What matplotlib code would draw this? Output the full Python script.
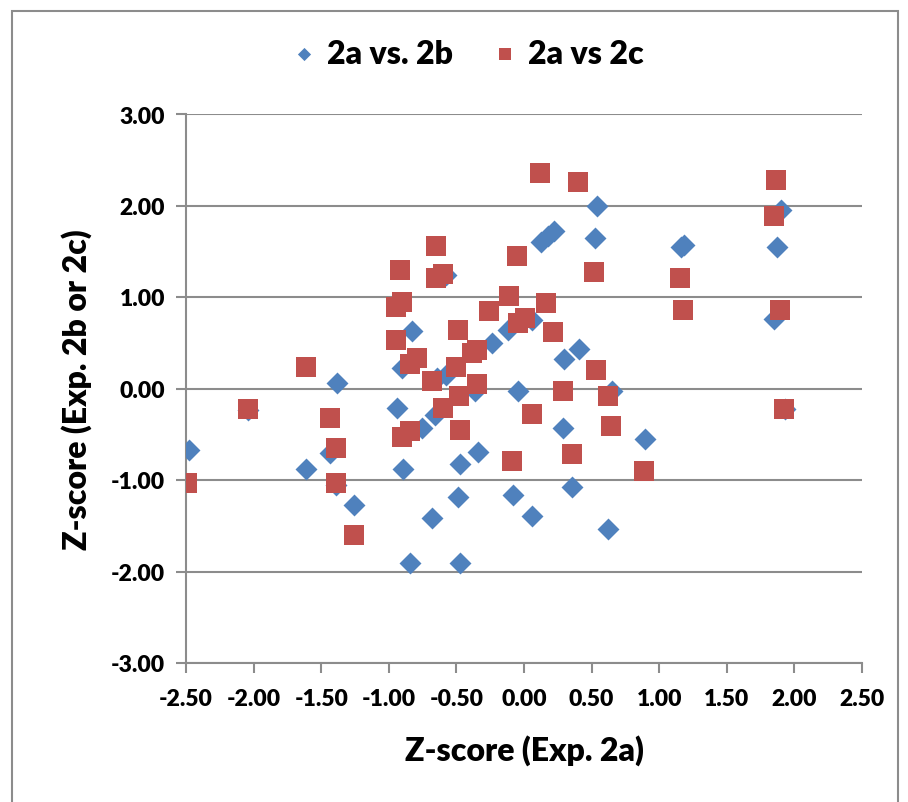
import matplotlib.pyplot as plt
from matplotlib.patches import Rectangle

# 2a vs. 2b (blue diamonds)
b_x = [-2.48, -2.04, -1.61, -1.435, -1.39, -1.385, -1.255, -0.94, -0.905, -0.897,
       -0.84, -0.826, -0.757, -0.678, -0.658, -0.646, -0.58, -0.577, -0.486, -0.473,
       -0.473, -0.36, -0.338, -0.239, -0.116, -0.084, -0.047, 0.057, 0.061, 0.126,
       0.18, 0.224, 0.286, 0.298, 0.357, 0.407, 0.525, 0.538, 0.624, 0.653,
       0.895, 1.161, 1.186, 1.849, 1.869, 1.898, 1.93]
b_y = [-0.67, -0.23, -0.88, -0.71, -1.05, 0.06, -1.27, -0.21, 0.22, -0.88,
       -1.91, 0.63, -0.43, -1.41, -0.29, 0.11, 1.24, 0.15, -1.19, -0.82,
       -1.91, -0.03, -0.69, 0.50, 0.64, -1.16, -0.03, 0.75, -1.39, 1.60,
       1.67, 1.72, -0.43, 0.32, -1.08, 0.43, 1.64, 2.00, -1.54, -0.03,
       -0.55, 1.55, 1.57, 0.76, 1.55, 1.95, -0.22]

# 2a vs 2c (red squares)
r_x = [-2.49, -2.04, -1.615, -1.435, -1.39, -1.39, -1.26, -0.947, -0.947, -0.917,
       -0.905, -0.905, -0.84, -0.84, -0.794, -0.683, -0.653, -0.653, -0.597, -0.597,
       -0.503, -0.49, -0.478, -0.473, -0.387, -0.35, -0.345, -0.257, -0.108, -0.091,
       -0.05, -0.047, 0.007, 0.057, 0.118, 0.16, 0.217, 0.286, 0.353, 0.397,
       0.518, 0.53, 0.62, 0.64, 0.888, 1.154, 1.178, 1.85, 1.864, 1.893, 1.923]
r_y = [-1.03, -0.22, 0.23, -0.32, -0.65, -1.03, -1.60, 0.89, 0.53, 1.30,
       0.95, -0.525, 0.27, -0.46, 0.33, 0.08, 1.56, 1.21, 1.25, -0.21,
       0.24, 0.64, -0.08, -0.45, 0.39, 0.42, 0.05, 0.85, 1.01, -0.79,
       1.45, 0.72, 0.77, -0.28, 2.35, 0.93, 0.62, -0.03, -0.72, 2.26,
       1.27, 0.20, -0.08, -0.41, -0.90, 1.21, 0.86, 1.89, 2.28, 0.86, -0.22]

x_ticks = [-2.5, -2.0, -1.5, -1.0, -0.5, 0.0, 0.5, 1.0, 1.5, 2.0, 2.5]
y_ticks = [-3.0, -2.0, -1.0, 0.0, 1.0, 2.0, 3.0]

BLUE = '#4F81BD'
RED = '#C0504D'
FONT = ['Lato', 'DejaVu Sans']

fig = plt.figure(figsize=(9.08, 8.03), dpi=100)
fig.patches.append(Rectangle((12 / 908, -0.01), 886 / 908, 1 - 12 / 803 + 0.01,
                             transform=fig.transFigure, fill=False,
                             edgecolor='#8c8c8c', linewidth=1.5))
ax = fig.add_axes([186 / 908, 1 - 664 / 803, 676 / 908, 549 / 803])

ax.scatter(b_x, b_y, marker='D', s=125, color=BLUE, linewidths=0, label='2a vs. 2b', zorder=3)
ax.scatter(r_x, r_y, marker='s', s=205, color=RED, linewidths=0, label='2a vs 2c', zorder=4)

ax.set_xlim(-2.5, 2.5)
ax.set_ylim(-3, 3)
ax.set_xticks(x_ticks)
ax.set_yticks(y_ticks)
ax.set_xticklabels(['%.2f' % v for v in x_ticks])
ax.set_yticklabels(['%.2f' % v for v in y_ticks])
ax.yaxis.grid(True, color='#8c8c8c', linewidth=1.5)
ax.set_axisbelow(True)
for s in ['top', 'right']:
    ax.spines[s].set_visible(False)
for s in ['left', 'bottom']:
    ax.spines[s].set_color('#8c8c8c')
    ax.spines[s].set_linewidth(1.5)
ax.tick_params(axis='both', colors='#8c8c8c', width=1.5, length=7, labelcolor='black')
ax.tick_params(axis='x', pad=11)
ax.tick_params(axis='y', pad=8)
for lab in ax.get_xticklabels() + ax.get_yticklabels():
    lab.set_family(FONT)
    lab.set_fontweight('heavy')
    lab.set_fontsize(16.5)

ax.set_xlabel('Z-score (Exp. 2a)', family=FONT, fontweight='heavy', fontsize=23, labelpad=18)
ax.set_ylabel('Z-score (Exp. 2b or 2c)', family=FONT, fontweight='heavy', fontsize=23, labelpad=14)

leg = fig.legend(loc='center', bbox_to_anchor=(0.513, 1 - 54 / 803), ncol=2, frameon=False,
                 prop={'family': FONT, 'weight': 'heavy', 'size': 23},
                 handletextpad=0.2, columnspacing=1.15, markerscale=0.6,
                 handlelength=1.0)

fig.savefig('out.png', dpi=100, facecolor='white')
